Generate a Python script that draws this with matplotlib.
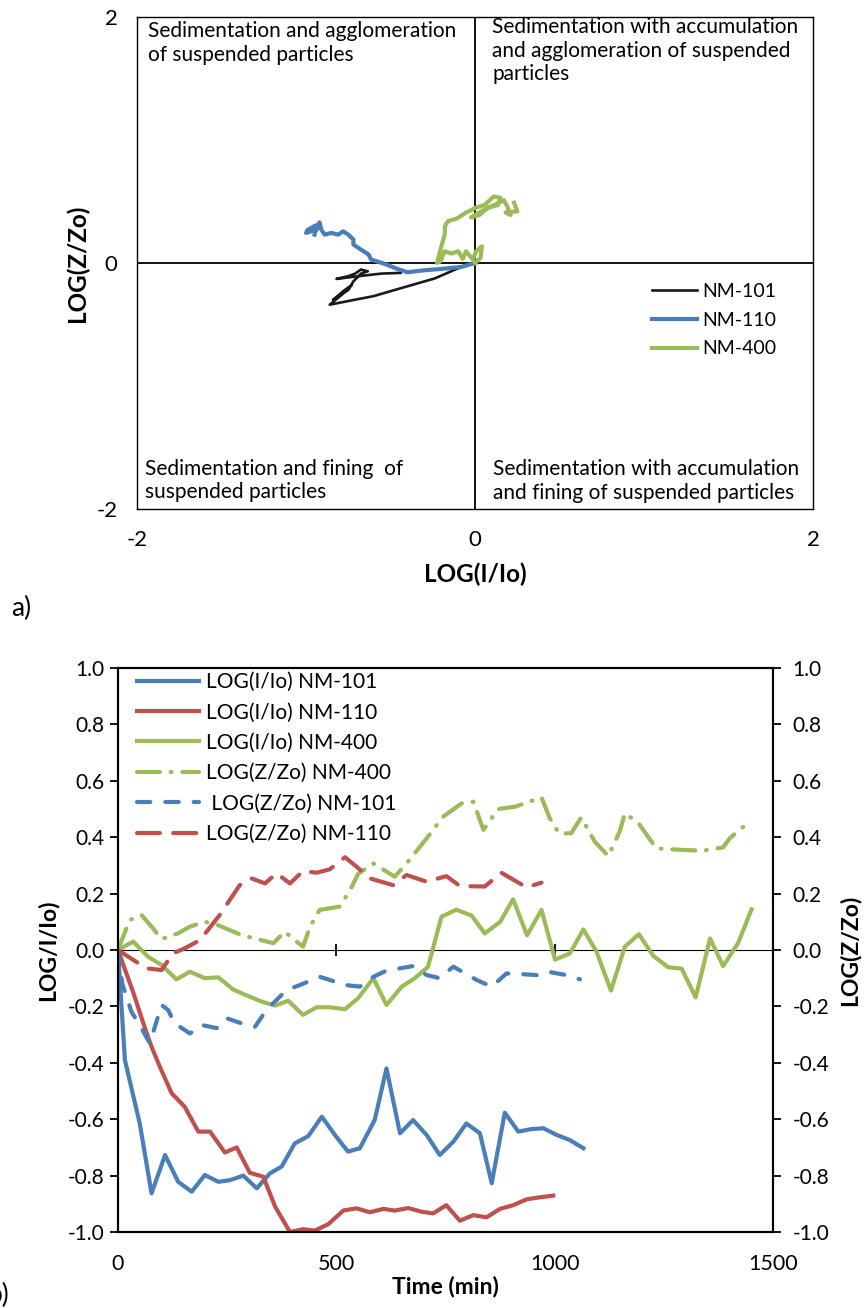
import matplotlib
matplotlib.use("Agg")
import matplotlib.pyplot as plt
from matplotlib.ticker import FormatStrFormatter

plt.rcParams['font.family'] = ['Lato', 'DejaVu Sans']
plt.rcParams['axes.unicode_minus'] = False

BLUE = '#4A7EBB'
RED = '#C0504D'
GREEN = '#9BBB59'

# ---- panel a: LOG(Z/Zo) vs LOG(I/Io) trajectories ----
a_x_101 = [0, -0.083, -0.24, -0.40, -0.60, -0.75, -0.86, -0.79, -0.73, -0.78, -0.84, -0.75, -0.72,
           -0.675, -0.635, -0.675, -0.71, -0.75, -0.82, -0.69, -0.556, -0.44]
a_y_101 = [0, -0.033, -0.127, -0.19, -0.27, -0.31, -0.34, -0.26, -0.18, -0.23, -0.30, -0.22, -0.15,
           -0.087, -0.068, -0.054, -0.087, -0.108, -0.13, -0.108, -0.087, -0.081]

a_x_110 = [0, -0.083, -0.20, -0.30, -0.40, -0.46, -0.54, -0.615, -0.63, -0.675, -0.72, -0.72, -0.75,
           -0.78, -0.81, -0.85, -0.89, -0.91, -0.92, -0.94, -0.97, -1.0, -0.99, -0.95, -0.93, -0.95]
a_y_110 = [0, -0.033, -0.049, -0.060, -0.076, -0.049, -0.005, 0.027, 0.068, 0.108, 0.149, 0.19, 0.23,
           0.257, 0.23, 0.244, 0.23, 0.27, 0.33, 0.27, 0.257, 0.244, 0.27, 0.30, 0.31, 0.23]

a_x_400 = [0, 0.032, 0.04, 0.006, -0.014, -0.053, -0.073, -0.10, -0.14, -0.18, -0.205, -0.225, -0.205,
           -0.18, -0.178, -0.16, -0.11, -0.053, 0.006, 0.055, 0.11, 0.15, 0.134, 0.075, 0.026, -0.024,
           0.036, 0.114, 0.17, 0.19, 0.21, 0.18, 0.25, 0.23]
a_y_400 = [0, 0.04, 0.135, 0.095, 0.027, 0.095, 0.033, 0.095, 0.076, 0.095, 0.014, 0.0, 0.108,
           0.23, 0.30, 0.34, 0.36, 0.41, 0.45, 0.47, 0.54, 0.53, 0.47, 0.45, 0.39, 0.37,
           0.42, 0.47, 0.51, 0.46, 0.39, 0.41, 0.42, 0.49]

quadrant_labels = ["Sedimentation and agglomeration\nof suspended particles",
                   "Sedimentation with accumulation\nand agglomeration of suspended\nparticles",
                   "Sedimentation and fining  of\nsuspended particles",
                   "Sedimentation with accumulation\nand fining of suspended particles"]

# ---- panel b: time series ----
t_i101 = [0, 5, 16, 50, 77, 108, 138, 169, 199, 230, 257, 287, 318, 348, 375, 405, 436, 467, 497, 527,
          554, 588, 615, 646, 676, 707, 737, 768, 798, 829, 856, 886, 917, 947, 974, 1005, 1035, 1066]
i101 = [0, -0.12, -0.39, -0.615, -0.863, -0.727, -0.822, -0.857, -0.798, -0.822, -0.816, -0.80, -0.845,
        -0.792, -0.768, -0.686, -0.66, -0.591, -0.656, -0.715, -0.703, -0.603, -0.42, -0.65, -0.603,
        -0.656, -0.727, -0.68, -0.615, -0.65, -0.827, -0.577, -0.644, -0.635, -0.632, -0.656, -0.674, -0.703]

t_i110 = [0, 35, 62, 77, 96, 123, 153, 184, 211, 245, 272, 302, 333, 360, 394, 424, 451, 482, 516, 546,
          577, 608, 634, 665, 695, 722, 752, 783, 814, 844, 875, 905, 936, 966, 997]
i110 = [0, -0.15, -0.278, -0.343, -0.414, -0.508, -0.556, -0.644, -0.644, -0.718, -0.70, -0.79, -0.804,
        -0.91, -1.0, -0.99, -0.995, -0.972, -0.924, -0.916, -0.93, -0.918, -0.924, -0.915, -0.928, -0.934,
        -0.905, -0.96, -0.94, -0.948, -0.918, -0.905, -0.884, -0.877, -0.871]

t_i400 = [0, 35, 69, 100, 134, 165, 199, 230, 264, 298, 329, 360, 390, 424, 455, 485, 520, 550, 585, 615,
          650, 680, 710, 741, 775, 810, 840, 875, 905, 937, 970, 1001, 1035, 1066, 1096, 1129, 1161, 1193,
          1226, 1260, 1291, 1323, 1356, 1386, 1420, 1451]
i400 = [0, 0.03, -0.024, -0.053, -0.104, -0.077, -0.10, -0.097, -0.14, -0.163, -0.183, -0.197, -0.18,
        -0.23, -0.203, -0.203, -0.21, -0.171, -0.10, -0.195, -0.13, -0.10, -0.06, 0.118, 0.143, 0.122,
        0.059, 0.099, 0.18, 0.052, 0.142, -0.034, -0.012, 0.073, -0.006, -0.144, 0.012, 0.056, -0.021,
        -0.061, -0.066, -0.168, 0.041, -0.057, 0.024, 0.144]

t_z400 = [0, 27, 54, 77, 100, 138, 165, 200, 226, 283, 356, 382, 409, 424, 440, 462, 508, 531, 550, 585,
          634, 661, 707, 745, 787, 814, 837, 871, 909, 970, 989, 1010, 1038, 1061, 1092, 1123, 1149, 1161,
          1192, 1233, 1291, 1340, 1386, 1401, 1432]
z400 = [0, 0.106, 0.124, 0.083, 0.039, 0.059, 0.083, 0.10, 0.09, 0.053, 0.024, 0.065, 0.03, 0.012, 0.083,
        0.142, 0.154, 0.21, 0.27, 0.307, 0.26, 0.307, 0.396, 0.473, 0.52, 0.526, 0.426, 0.50, 0.508, 0.541,
        0.467, 0.414, 0.414, 0.47, 0.384, 0.333, 0.42, 0.485, 0.45, 0.36, 0.355, 0.352, 0.364, 0.396, 0.437]

t_z101 = [0, 10, 31, 50, 73, 100, 115, 130, 165, 192, 226, 249, 283, 314, 340, 386, 417, 462, 485, 520,
          554, 585, 615, 676, 707, 737, 768, 821, 856, 890, 920, 959, 985, 1027, 1058]
z101 = [0, -0.12, -0.219, -0.266, -0.331, -0.195, -0.213, -0.26, -0.296, -0.266, -0.277, -0.242, -0.26,
        -0.272, -0.213, -0.142, -0.124, -0.095, -0.106, -0.124, -0.13, -0.095, -0.073, -0.057, -0.089,
        -0.10, -0.059, -0.106, -0.13, -0.083, -0.085, -0.089, -0.077, -0.089, -0.104]

t_z110 = [0, 65, 100, 126, 153, 188, 233, 256, 279, 306, 337, 363, 394, 424, 455, 485, 520, 546, 577, 630,
          661, 707, 752, 783, 840, 878, 936, 970]
z110 = [0, -0.065, -0.071, -0.012, 0.006, 0.035, 0.124, 0.177, 0.23, 0.254, 0.236, 0.272, 0.236, 0.28,
        0.274, 0.286, 0.329, 0.296, 0.254, 0.23, 0.266, 0.242, 0.262, 0.227, 0.225, 0.274, 0.222, 0.239]

fig = plt.figure(figsize=(8.67, 13.08), dpi=100)

# panel a
ax1 = fig.add_axes([0.158, 0.611, 0.78, 0.376])
ax1.plot(a_x_101, a_y_101, color='#1a1a1a', lw=1.9, label='NM-101')
ax1.plot(a_x_110, a_y_110, color=BLUE, lw=3, label='NM-110')
ax1.plot(a_x_400, a_y_400, color=GREEN, lw=3, label='NM-400')
ax1.axhline(0, color='black', lw=1.3, zorder=1)
ax1.axvline(0, color='black', lw=1.3, zorder=1)
ax1.set_xlim(-2, 2)
ax1.set_ylim(-2, 2)
ax1.set_xticks([-2, 0, 2])
ax1.set_yticks([-2, 0, 2])
ax1.tick_params(axis='x', length=0, labelsize=16, pad=15)
ax1.tick_params(axis='y', length=0, labelsize=16, pad=14)
for s in ax1.spines.values():
    s.set_linewidth(1.0)
ax1.set_xlabel('LOG(I/Io)', fontsize=17.5, fontweight='bold', labelpad=9)
ax1.set_ylabel('LOG(Z/Zo)', fontsize=17.5, fontweight='bold', labelpad=5)

qpos = [(0.016, 0.991), (0.525, 1.0), (0.012, 0.102), (0.527, 0.101)]
for (qx, qy), txt in zip(qpos, quadrant_labels):
    ax1.text(qx, qy, txt, transform=ax1.transAxes, ha='left', va='top',
             fontsize=15, linespacing=1.22)

ax1.legend(loc='upper left', bbox_to_anchor=(0.762, 0.459), frameon=False, fontsize=14,
           handlelength=2.3, handletextpad=0.25, labelspacing=0.6, borderpad=0, borderaxespad=0)

fig.text(0.013, 1 - 608 / 1308, 'a)', fontsize=19, va='center', ha='left')

# panel b
ax2 = fig.add_axes([0.136, 0.0581, 0.7555, 0.4312])
ax3 = ax2.twinx()
h1, = ax2.plot(t_i101, i101, color=BLUE, lw=3, label='LOG(I/Io) NM-101')
h2, = ax2.plot(t_i110, i110, color=RED, lw=3, label='LOG(I/Io) NM-110')
h3, = ax2.plot(t_i400, i400, color=GREEN, lw=3, label='LOG(I/Io) NM-400')
h4, = ax3.plot(t_z400, z400, color=GREEN, lw=3, dashes=(5.5, 2.6, 0.2, 2.6), dash_capstyle='round',
               label='LOG(Z/Zo) NM-400')
h5, = ax3.plot(t_z101, z101, color=BLUE, lw=3, dashes=(3.2, 3.6), dash_capstyle='round',
               label=' LOG(Z/Zo) NM-101')
h6, = ax3.plot(t_z110, z110, color=RED, lw=3, dashes=(5.5, 3.2), dash_capstyle='round',
               label='LOG(Z/Zo) NM-110')

for ax in (ax2, ax3):
    ax.set_ylim(-1, 1)
    ax.set_yticks([-1.0, -0.8, -0.6, -0.4, -0.2, 0.0, 0.2, 0.4, 0.6, 0.8, 1.0])
    ax.yaxis.set_major_formatter(FormatStrFormatter('%.1f'))
    for s in ax.spines.values():
        s.set_linewidth(1.5)
ax2.set_xlim(0, 1500)
ax2.set_xticks([0, 500, 1000, 1500])
ax2.tick_params(axis='x', length=0, labelsize=15.5, pad=16)
ax2.tick_params(axis='y', direction='out', length=6, width=1.3, labelsize=15, pad=4)
ax3.tick_params(axis='y', direction='out', length=6, width=1.3, labelsize=15, pad=8)

zero_axis = ax2.secondary_xaxis(0.5)
zero_axis.set_xticks([0, 500, 1000, 1500])
zero_axis.tick_params(direction='inout', length=8, width=1.3, labelbottom=False)
zero_axis.spines['bottom'].set_linewidth(1.5)
zero_axis.set_xticklabels([])

ax2.set_xlabel('Time (min)', fontsize=16.5, fontweight='bold', labelpad=1)
ax2.set_ylabel('LOG/I/Io)', fontsize=16.5, fontweight='bold', labelpad=6)
ax3.set_ylabel('LOG(Z/Zo)', fontsize=16.5, fontweight='bold', labelpad=7)

ax2.legend(handles=[h1, h2, h3, h4, h5, h6], loc='upper left', bbox_to_anchor=(0.029, 0.993),
           frameon=False, fontsize=15, handlelength=3.0, handletextpad=0.3, labelspacing=0.5,
           borderpad=0, borderaxespad=0)

fig.text(0.010, 1 - 1295 / 1308, 'b)', fontsize=19, va='center', ha='right')

fig.savefig('out.png', dpi=100)
